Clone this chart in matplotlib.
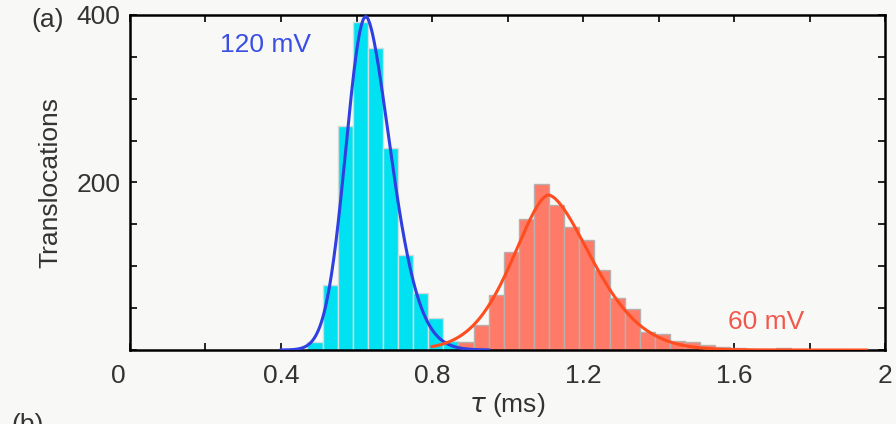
import numpy as np
import matplotlib
matplotlib.use('Agg')
import matplotlib.pyplot as plt
from matplotlib.ticker import MultipleLocator

plt.rcParams['font.family'] = ['Liberation Sans', 'DejaVu Sans']

# Histogram data (bin centres in ms, bin width 0.04 ms)
bin_width = 0.04
centers_120 = [0.49, 0.53, 0.57, 0.61, 0.65, 0.69, 0.73, 0.77, 0.81, 0.85]
counts_120 = [9, 78, 267, 391, 360, 241, 113, 68, 38, 11]

centers_60 = [0.89, 0.93, 0.97, 1.01, 1.05, 1.09, 1.13, 1.17, 1.21, 1.25, 1.29,
              1.33, 1.37, 1.41, 1.45, 1.49, 1.53, 1.57, 1.61, 1.65, 1.69, 1.73, 1.77]
counts_60 = [9, 30, 66, 117, 156, 198, 173, 147, 131, 96, 62,
             49, 21, 19, 11, 9, 6, 4, 2, 1, 1, 2, 1]

# Fit parameters: peak position, amplitude, left/right width and exponent
fit_120 = dict(c=0.625, amp=398, sl=0.053, pl=2.0, sr=0.064, pr=1.71)
fit_60 = dict(c=1.108, amp=185, sl=0.0916, pl=1.68, sr=0.1113, pr=1.67)


def fit_curve(x, c, amp, sl, pl, sr, pr):
    z = np.where(x < c, np.abs(x - c) / sl, np.abs(x - c) / sr)
    p = np.where(x < c, pl, pr)
    return amp * np.exp(-0.5 * z ** p)


bg = '#f8f9f6'
fig = plt.figure(figsize=(8.96, 4.24), dpi=100, facecolor=bg)
ax = fig.add_axes([0.145, 0.1745, 0.843, 0.7905], facecolor=bg)

ax.bar(centers_120, counts_120, width=bin_width, color='#00e2f2',
       edgecolor='#d2dcdc', linewidth=1.0, zorder=2)
ax.bar(centers_60, counts_60, width=bin_width, color='#ff7b68',
       edgecolor='#b8b0ae', linewidth=1.0, zorder=2)

x1 = np.linspace(0.40, 0.95, 300)
x2 = np.linspace(0.80, 1.95, 500)
ax.plot(x1, fit_curve(x1, **fit_120), color='#2f3fe0', lw=2.2, zorder=3)
ax.plot(x2, fit_curve(x2, **fit_60), color='#ff4d1f', lw=2.2, zorder=4)

ax.text(0.358, 364, '120 mV', color='#3a4ee6', fontsize=19, ha='center', va='center')
ax.text(1.685, 34, '60 mV', color='#f2574e', fontsize=19, ha='center', va='center')

ax.set_xlim(0, 2)
ax.set_ylim(0, 400)
ax.xaxis.set_minor_locator(MultipleLocator(0.2))
ax.set_yticks([200, 400])
ax.yaxis.set_minor_locator(MultipleLocator(50))
ax.set_xticks([0, 0.4, 0.8, 1.2, 1.6, 2.0])
ax.set_xticklabels(['', '0.4', '0.8', '1.2', '1.6', '2'])
ax.annotate('0', xy=(0, 0), xycoords=('data', 'axes fraction'),
            xytext=(-12, -14), textcoords='offset pixels',
            ha='center', va='top', fontsize=19, color='#333333')

ax.tick_params(which='both', direction='in', top=True, right=True,
               length=5, width=1.2, colors='black', labelcolor='#333333',
               labelsize=19)
ax.tick_params(axis='x', which='both', pad=10)
ax.tick_params(axis='y', which='both', pad=7)
for s in ax.spines.values():
    s.set_linewidth(1.8)
    s.set_color('black')

ax.set_ylabel('Translocations', fontsize=19, color='#333333', labelpad=10)
ax.set_xlabel(r'$\tau$ (ms)', fontsize=19, color='#333333', labelpad=2)

fig.text(0.035, 0.953, '(a)', fontsize=19, color='#333333', ha='left', va='center')
fig.text(0.013, 0.026, '(b)', fontsize=19, color='#333333', ha='left', va='top')

fig.savefig('out.png', dpi=100, facecolor=bg)
